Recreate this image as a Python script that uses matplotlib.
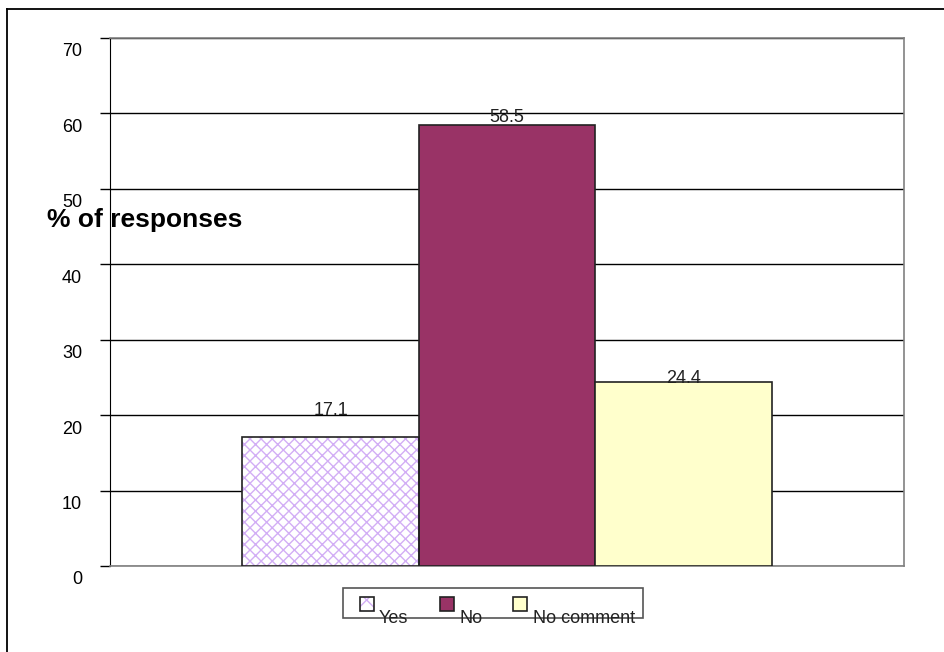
import matplotlib
matplotlib.use("Agg")
import matplotlib.pyplot as plt
import matplotlib.transforms as mtransforms
from matplotlib.patches import Rectangle
from matplotlib.lines import Line2D
import numpy as np

plt.rcParams['font.family'] = ['Liberation Sans', 'DejaVu Sans']
plt.rcParams['hatch.linewidth'] = 1.0

# data
answers = ['Yes', 'No', 'No comment']
percent = [17.1, 58.5, 24.4]
yticks = [0, 10, 20, 30, 40, 50, 60, 70]

# styles
face = ['white', '#993366', '#ffffcc']
hatch = ['xxx', None, None]
hatch_col = '#d2aef5'
label_lift = [27, 7, 3]   # px above bar top (label centre)

W, H = 945, 652
fig = plt.figure(figsize=(W / 100, H / 100), dpi=100)
ax = fig.add_axes([110 / W, (H - 566) / H, 794 / W, 528 / H])

w = 1 / 4.5
xs = np.array([-w, 0, w])
for i in range(len(answers)):
    if hatch[i]:
        ax.bar(xs[i], percent[i], w, color=face[i], edgecolor=hatch_col,
               hatch=hatch[i], linewidth=0, zorder=3)
        ax.bar(xs[i], percent[i], w, fill=False, edgecolor='#222222',
               linewidth=1.2, zorder=4)
    else:
        ax.bar(xs[i], percent[i], w, color=face[i], edgecolor='#222222',
               linewidth=1.2, zorder=3)
    off = mtransforms.ScaledTranslation(0, label_lift[i] / 100, fig.dpi_scale_trans)
    ax.text(xs[i], percent[i], f'{percent[i]:.1f}', ha='center', va='center',
            fontsize=13, color='#222222', zorder=5,
            transform=ax.transData + off)

ax.set_xlim(-0.5, 0.5)
ax.set_ylim(0, 70)
ax.set_xticks([])
ax.set_yticks(yticks)
ax.yaxis.grid(True, color='black', linewidth=1)
ax.set_axisbelow(True)
ax.tick_params(axis='y', direction='out', length=7, width=1, pad=13,
               labelsize=13, colors='black')
for lab in ax.get_yticklabels():
    lab.set_transform(lab.get_transform() +
                      mtransforms.ScaledTranslation(0, -12 / 100, fig.dpi_scale_trans))

ax.spines['left'].set_color('black')
for s in ['top', 'right', 'bottom']:
    ax.spines[s].set_color('#808080')
    ax.spines[s].set_linewidth(1.2)

# y title, drawn across the axis as in the original
fig.text(47 / W, (H - 227) / H, '% of responses', fontsize=19, fontweight='bold',
         va='baseline', ha='left')

# legend box
px = lambda x, y: (x / W, (H - y) / H)
fig.patches.append(Rectangle(px(343, 618), 300 / W, 30 / H, transform=fig.transFigure,
                             facecolor='white', edgecolor='#555555', linewidth=1.2))
sq_x = [360, 440, 513]
txt_x = [379, 460, 533]
for i, name in enumerate(answers):
    if hatch[i]:
        fig.patches.append(Rectangle(px(sq_x[i], 611), 14 / W, 14 / H,
                                     transform=fig.transFigure, facecolor='white',
                                     edgecolor=hatch_col, hatch='xx', linewidth=0))
        fig.patches.append(Rectangle(px(sq_x[i], 611), 14 / W, 14 / H,
                                     transform=fig.transFigure, fill=False,
                                     edgecolor='#222222', linewidth=1.2))
    else:
        fig.patches.append(Rectangle(px(sq_x[i], 611), 14 / W, 14 / H,
                                     transform=fig.transFigure, facecolor=face[i],
                                     edgecolor='#222222', linewidth=1.2))
    fig.text(*px(txt_x[i], 623), name, fontsize=13, va='baseline', ha='left',
             color='#222222')

# outer frame
fig.add_artist(Line2D([7 / W, 1], [(H - 9) / H] * 2, transform=fig.transFigure,
                      color='black', linewidth=1.3))
fig.add_artist(Line2D([7 / W] * 2, [0, (H - 9) / H], transform=fig.transFigure,
                      color='black', linewidth=1.3))

fig.savefig('out.png', dpi=100)
